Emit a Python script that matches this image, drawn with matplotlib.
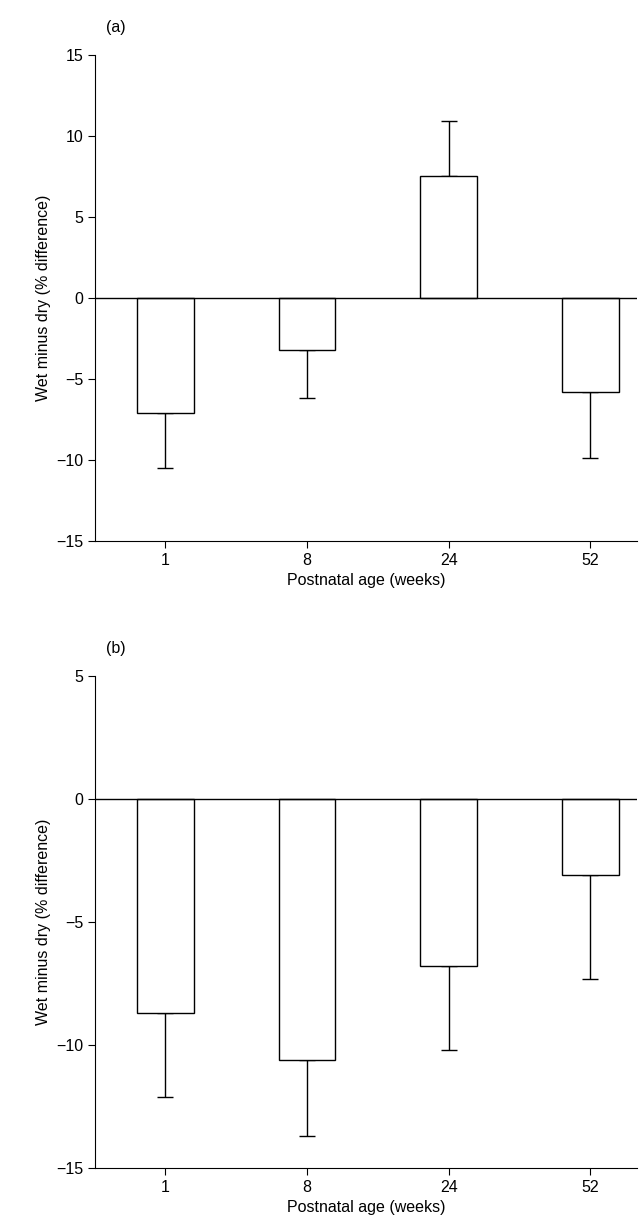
import matplotlib
matplotlib.use("Agg")
import matplotlib.pyplot as plt
import numpy as np

plt.rcParams['font.family'] = ['Liberation Sans', 'DejaVu Sans']
plt.rcParams['font.size'] = 11.5

ages = ["1", "8", "24", "52"]
a_means = [-7.1, -3.2, 7.5, -5.8]
a_errs = [3.4, 3.0, 3.4, 4.1]
b_means = [-8.7, -10.6, -6.8, -3.1]
b_errs = [3.4, 3.1, 3.4, 4.2]

fig = plt.figure(figsize=(6.39, 12.28), dpi=100)
ax_a = fig.add_axes([0.149, 0.5595, 0.848, 0.396])
ax_b = fig.add_axes([0.149, 0.0489, 0.848, 0.4007])

def panel(ax, means, errs, lim, ticks, label):
    x = np.arange(1, len(ages) + 1)
    means = np.array(means)
    errs = np.array(errs)
    lower = np.where(means < 0, errs, 0)
    upper = np.where(means > 0, errs, 0)
    ax.bar(x, means, width=0.4, color="white", edgecolor="black", linewidth=1, zorder=2)
    ax.errorbar(x, means, yerr=[lower, upper], fmt="none", ecolor="black",
                elinewidth=1, capsize=6, capthick=1, zorder=1)
    ax.axhline(0, color="black", linewidth=1, zorder=3)
    ax.set_xlim(0.505, 4.33)
    ax.set_ylim(*lim)
    ax.set_yticks(ticks)
    ax.set_yticklabels([str(t).replace("-", "\u2212") for t in ticks])
    ax.set_xticks(x)
    ax.set_xticklabels(ages)
    for s in ["top", "right"]:
        ax.spines[s].set_visible(False)
    ax.tick_params(direction="out", length=5)
    ax.set_xlabel("Postnatal age (weeks)")
    ax.set_ylabel("Wet minus dry (% difference)")
    ax.text(0.02, 1.04, label, transform=ax.transAxes, ha="left", va="bottom")

panel(ax_a, a_means, a_errs, (-15, 15), [-15, -10, -5, 0, 5, 10, 15], "(a)")
panel(ax_b, b_means, b_errs, (-15, 5), [-15, -10, -5, 0, 5], "(b)")

fig.savefig("out.png", dpi=100)
